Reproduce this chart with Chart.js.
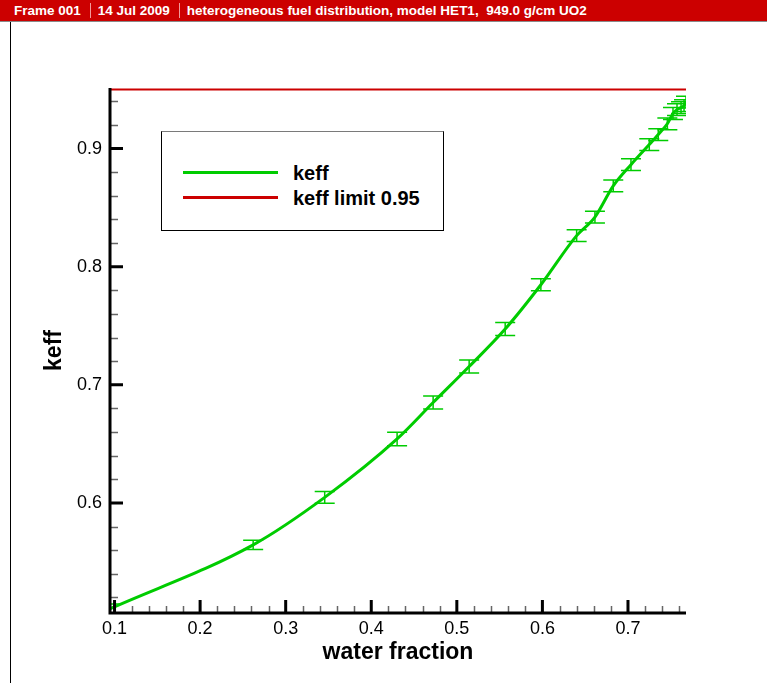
<!DOCTYPE html>
<html><head><meta charset="utf-8">
<script src="https://cdn.jsdelivr.net/npm/chart.js@4.4.1/dist/chart.umd.min.js"></script>
<style>
html,body{margin:0;padding:0;background:#fff;}
#wrap{position:relative;width:767px;height:683px;overflow:hidden;background:#fff;}
#header{position:absolute;left:0;top:0;width:767px;height:21px;background:#cc0000;border-bottom:1px solid #8a8a8a;color:#fff;font:bold 13.5px "Liberation Sans",Arial,sans-serif;display:flex;align-items:center;white-space:pre;z-index:2;box-sizing:content-box;}
#header .t0{margin-left:14px;}
#header .sep{width:1px;height:15px;background:#f29a9a;margin:0 7px 0 9px;}
#frame{position:absolute;left:10px;top:22px;width:1px;height:661px;background:#000;z-index:2;}
#chartbox{position:absolute;left:0;top:0;width:767px;height:683px;}
#legend{position:absolute;left:161px;top:131px;width:281px;height:98px;border:1px solid #000;border-top-color:#7a7a7a;background:#fff;z-index:2;font:bold 20px "Liberation Sans",Arial,sans-serif;color:#000;}
#legend .row{position:absolute;left:0;height:24px;width:281px;}
#legend .sw{position:absolute;left:21px;top:10px;width:95px;height:3px;}
#legend .lb{position:absolute;left:131px;top:0;line-height:24px;white-space:pre;}
</style>
</head>
<body>
<div id="wrap">
  <div id="header"><span class="t0">Frame 001</span><span class="sep"></span><span>14 Jul 2009</span><span class="sep"></span><span>heterogeneous fuel distribution, model HET1,  949.0 g/cm UO2</span></div>
  <div id="frame"></div>
  <div id="chartbox"><canvas id="c"></canvas></div>
  <div id="legend"></div>
</div>
<script>
// ---- data ----
const waterFraction = [0.095, 0.262, 0.3456, 0.4302, 0.4723, 0.5144, 0.5565, 0.5982, 0.640, 0.6614, 0.6828, 0.7035, 0.7249, 0.7354, 0.7460, 0.7526, 0.7573, 0.7620, 0.7655, 0.7678];
const keffValues    = [0.5105, 0.5645, 0.6047, 0.6542, 0.6850, 0.7155, 0.7472, 0.7847, 0.8263, 0.8420, 0.8684, 0.8864, 0.9034, 0.9119, 0.9210, 0.9297, 0.9330, 0.9347, 0.9364, 0.9394];
const keffError     = [0.004, 0.004, 0.005, 0.0057, 0.0055, 0.0055, 0.0055, 0.005, 0.005, 0.005, 0.005, 0.005, 0.005, 0.005, 0.005, 0.005, 0.005, 0.005, 0.005, 0.005];
const keffLimit = 0.95;
const seriesLabels = ['keff', 'keff limit 0.95'];
const xTickValues = [0.1, 0.2, 0.3, 0.4, 0.5, 0.6, 0.7];
const xTickLabels = ['0.1', '0.2', '0.3', '0.4', '0.5', '0.6', '0.7'];
const yTickValues = [0.6, 0.7, 0.8, 0.9];
const yTickLabels = ['0.6', '0.7', '0.8', '0.9'];
const xRange = [0.0947, 0.7678];
const yRange = [0.5068, 0.9513];
const xTitle = 'water fraction';
const yTitle = 'keff';

const GREEN = '#00cc00';
const RED = '#cc0000';
const FONT = '"Liberation Sans", Arial, Helvetica, sans-serif';

const decoPlugin = {
  id: 'deco',
  afterDatasetsDraw(chart) {
    const {ctx, chartArea: a, scales: {x, y}} = chart;
    // error bars
    ctx.save();
    ctx.beginPath();
    ctx.rect(a.left, a.top, a.right - a.left, a.bottom - a.top);
    ctx.clip();
    ctx.strokeStyle = GREEN;
    ctx.lineWidth = 1.5;
    for (let i = 0; i < waterFraction.length; i++) {
      const px = x.getPixelForValue(waterFraction[i]);
      const pt = y.getPixelForValue(keffValues[i] + keffError[i]);
      const pb = y.getPixelForValue(keffValues[i] - keffError[i]);
      ctx.beginPath();
      ctx.moveTo(px, pt); ctx.lineTo(px, pb);
      ctx.moveTo(px - 10, pt); ctx.lineTo(px + 10, pt);
      ctx.moveTo(px - 10, pb); ctx.lineTo(px + 10, pb);
      ctx.stroke();
    }
    ctx.restore();

    // minor ticks
    ctx.save();
    ctx.strokeStyle = '#666';
    ctx.lineWidth = 1.5;
    ctx.beginPath();
    for (let k = 0; k < 100; k++) {
      const v = Math.round(k * 2) / 100;
      if (v < xRange[0] || v > xRange[1]) continue;
      if (k % 5 === 0) continue;
      const px = Math.round(x.getPixelForValue(v)) + 0.5;
      ctx.moveTo(px, a.bottom); ctx.lineTo(px, a.bottom - 7);
    }
    for (let k = 0; k < 100; k++) {
      const v = Math.round(k * 2) / 100;
      if (v < yRange[0] || v > yRange[1]) continue;
      if (k % 5 === 0) continue;
      const py = Math.round(y.getPixelForValue(v)) + 0.5;
      ctx.moveTo(a.left, py); ctx.lineTo(a.left + 8, py);
    }
    ctx.stroke();
    // major ticks
    ctx.strokeStyle = '#000';
    ctx.lineWidth = 3;
    ctx.beginPath();
    xTickValues.forEach(v => {
      const px = x.getPixelForValue(v);
      ctx.moveTo(px, a.bottom); ctx.lineTo(px, a.bottom - 13);
    });
    yTickValues.forEach(v => {
      const py = y.getPixelForValue(v);
      ctx.moveTo(a.left, py); ctx.lineTo(a.left + 13, py);
    });
    ctx.stroke();
    // axis lines
    ctx.lineWidth = 3;
    ctx.beginPath();
    ctx.moveTo(a.left, a.top); ctx.lineTo(a.left, a.bottom + 1.5);
    ctx.moveTo(a.left - 1.5, a.bottom); ctx.lineTo(a.right, a.bottom);
    ctx.stroke();
    ctx.restore();
  }
};

const ctx = document.getElementById('c');
const chart = new Chart(ctx, {
  type: 'line',
  data: {
    datasets: [
      {
        label: seriesLabels[0],
        data: waterFraction.map((v, i) => ({x: v, y: keffValues[i]})),
        borderColor: GREEN,
        backgroundColor: GREEN,
        borderWidth: 3,
        pointRadius: 0,
        cubicInterpolationMode: 'monotone',
        fill: false
      },
      {
        label: seriesLabels[1],
        data: xRange.map(v => ({x: v, y: keffLimit})),
        borderColor: RED,
        backgroundColor: RED,
        borderWidth: 2,
        pointRadius: 0,
        fill: false
      }
    ]
  },
  options: {
    responsive: true,
    maintainAspectRatio: false,
    animation: false,
    layout: {padding: {left: 0, right: 81, top: 88, bottom: 0}},
    plugins: {legend: {display: false}, tooltip: {enabled: false}},
    scales: {
      x: {
        type: 'linear',
        min: xRange[0], max: xRange[1],
        afterBuildTicks: s => { s.ticks = xTickValues.map(v => ({value: v})); },
        afterFit: s => { s.height = 70; },
        grid: {display: false, drawTicks: false},
        border: {display: false},
        ticks: {
          padding: 5, color: '#000', font: {family: FONT, size: 18},
          maxRotation: 0, autoSkip: false,
          callback: (v, i) => xTickLabels[i]
        },
        title: {display: true, text: xTitle, color: '#000', font: {family: FONT, size: 23, weight: 'bold'}, padding: {top: 0, bottom: 17}}
      },
      y: {
        type: 'linear',
        min: yRange[0], max: yRange[1],
        afterBuildTicks: s => { s.ticks = yTickValues.map(v => ({value: v})); },
        afterFit: s => { s.width = 110; },
        grid: {display: false, drawTicks: false},
        border: {display: false},
        ticks: {
          padding: 8, color: '#000', font: {family: FONT, size: 18},
          autoSkip: false,
          callback: (v, i) => yTickLabels[i]
        },
        title: {display: true, text: yTitle, color: '#000', font: {family: FONT, size: 23, weight: 'bold'}, padding: {top: 41, bottom: 0}}
      }
    }
  },
  plugins: [decoPlugin]
});

// legend from the datasets
const lg = document.getElementById('legend');
chart.data.datasets.forEach((ds, i) => {
  const row = document.createElement('div');
  row.className = 'row';
  row.style.top = (29 + i * 25) + 'px';
  const sw = document.createElement('div');
  sw.className = 'sw';
  sw.style.background = ds.borderColor;
  const lb = document.createElement('div');
  lb.className = 'lb';
  lb.textContent = ds.label;
  row.appendChild(sw); row.appendChild(lb);
  lg.appendChild(row);
});
</script>
</body></html>
